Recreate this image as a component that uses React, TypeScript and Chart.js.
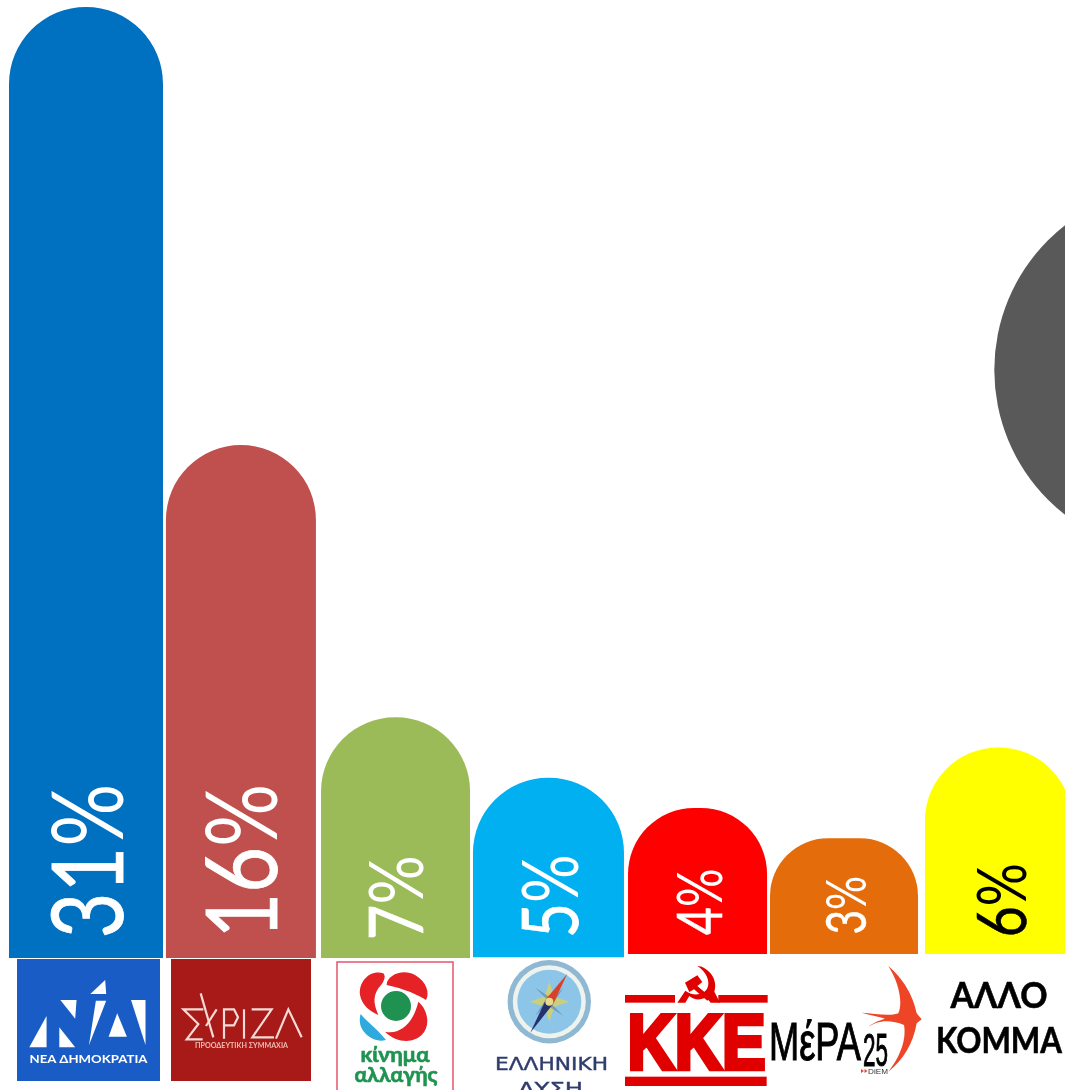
import React, { useEffect, useRef } from "react";
import Chart from "chart.js/auto";

// ---- data ----
const categories = ["Νέα Δημοκρατία", "ΣΥΡΙΖΑ", "Κίνημα Αλλαγής", "Ελληνική Λύση", "ΚΚΕ", "ΜέΡΑ25", "Άλλο Κόμμα"];
const values = [30.48, 16, 7, 5, 4, 3, 6];
const valueLabels = ["31%", "16%", "7%", "5%", "4%", "3%", "6%"];
const baseValues = [-0.96, -0.96, -0.96, -0.93, -0.83, -0.83, -0.83];
const slots = [0, 1.006, 2.01, 3.003, 3.971, 4.922, 5.925];
const undecidedCategory = "Αναποφάσιστοι";
const undecidedSlot = 7.09;
const undecidedValue = 18.48;

// ---- styles ----
const barColors = ["#0070c0", "#c0504d", "#9bbb59", "#00b0f0", "#ff0000", "#e46c0a", "#ffff00"];
const labelColors = ["#fff", "#fff", "#fff", "#fff", "#fff", "#fff", "#000"];
const barWidths = [154, 150, 149, 151, 139, 148, 147];
const barRadii = [77, 75, 74, 75, 66, 60, 73];
const labelCaps = [71, 71, 55, 56, 44, 40, 49];
const labelLengths = [148, 145, 79, 78, 65, 56, 70];
const labelShift = [1.5, 0.5, 0, 1.5, 2.5, 2, 3];
const labelBottom = [935, 932, 937, 935, 935, 933, 935];

const valueLabelPlugin = {
  id: "valueLabels",
  afterDatasetsDraw(chart: any) {
    const ctx = chart.ctx;
    valueLabels.forEach((text, i) => {
      const el = chart.getDatasetMeta(i).data[0];
      if (!el) return;
      const cap = labelCaps[i];
      ctx.save();
      ctx.font = `400 ${cap / 0.72}px Lato`;
      ctx.fillStyle = labelColors[i];
      ctx.strokeStyle = labelColors[i];
      ctx.lineWidth = cap * 0.012;
      ctx.textAlign = "left";
      ctx.textBaseline = "alphabetic";
      const m = ctx.measureText(text);
      const inkW = m.actualBoundingBoxRight + m.actualBoundingBoxLeft;
      const sx = labelLengths[i] / inkW;
      ctx.translate(el.x + cap / 2 + labelShift[i], labelBottom[i]);
      ctx.rotate(-Math.PI / 2);
      ctx.scale(sx, 1);
      ctx.fillText(text, m.actualBoundingBoxLeft, 0);
      ctx.strokeText(text.replace("%", ""), m.actualBoundingBoxLeft, 0);
      ctx.restore();
    });
  },
};

function Logos() {
  const greek = "Lato, 'Noto Sans', sans-serif";
  const third = 1 / 3;
  return (
    <svg width={1065} height={1090} style={{ position: "absolute", left: 0, top: 0, pointerEvents: "none" }}>
      {/* Nea Dimokratia */}
      <rect x={17} y={959} width={143} height={122} fill="#1a5cc6" />
      <g transform="translate(0,940) scale(0.3448,0.3333)" fill="#fff">
        <polygon points="305,120 262,162 308,162" />
        <polygon points="175,180 222,180 218,236" />
        <polygon points="278,182 308,182 258,316" />
        <polygon points="135,228 135,322 85,322" />
        <polygon points="172,262 218,322 172,322" />
        <polygon points="340,220 368,290 315,290" />
        <polygon points="380,180 422,180 422,315" />
      </g>
      <text x={88.5} y={1063} textAnchor="middle" fontFamily={greek} fontWeight={700} fontSize={12} fill="#fff" textLength={118} lengthAdjust="spacingAndGlyphs">ΝΕΑ ΔΗΜΟΚΡΑΤΙΑ</text>

      {/* Syriza */}
      <rect x={171} y={959} width={140} height={122} fill="#a81a18" />
      <g transform={`translate(170,960) scale(${third})`} fill="none" stroke="#f6dcd6" strokeWidth={6.5}>
        <polyline points="100,148 40,148 85,192 50,238 98,238" />
        <line x1="92" y1="100" x2="130" y2="232" />
        <line x1="140" y1="148" x2="108" y2="198" />
        <polyline points="162,236 162,148 192,148 204,172 192,196 162,196" />
        <line x1="222" y1="148" x2="222" y2="236" />
        <polyline points="245,148 305,148 247,232 312,232" />
        <polyline points="318,236 355,148 395,232" />
      </g>
      <text x={241.5} y={1047.5} textAnchor="middle" fontFamily={greek} fontWeight={700} fontSize={7} fill="#eebcb0" textLength={93} lengthAdjust="spacingAndGlyphs">ΠΡΟΟΔΕΥΤΙΚΗ ΣΥΜΜΑΧΙΑ</text>

      {/* Kinima Allagis */}
      <rect x={337} y={962} width={116} height={130} fill="#fff" stroke="#e2556b" strokeWidth={1.5} />
      <g transform={`translate(170,960) scale(${third})`}>
        <path d="M640,40 C600,28 565,65 570,105 C575,135 600,155 625,165 C615,140 605,115 625,85 C640,70 650,50 640,40Z" fill="#e52226" />
        <path d="M650,75 C650,45 700,25 735,45 C770,65 780,100 768,120 C745,105 700,85 650,75Z" fill="#e52226" />
        <path d="M745,125 C775,150 782,200 755,225 C730,250 680,250 645,215 C690,225 730,190 745,125Z" fill="#e52226" />
        <path d="M572,162 C590,185 615,200 648,240 C615,250 585,225 575,205 C568,190 568,175 572,162Z" fill="#2eaadc" />
        <circle cx={678} cy={138} r={45} fill="#1f9150" />
      </g>
      <text x={395} y={1062} textAnchor="middle" fontFamily={greek} fontWeight={700} fontSize={20} fill="#1f9350" stroke="#1f9350" strokeWidth={0.6} textLength={69} lengthAdjust="spacingAndGlyphs">κίνημα</text>
      <text x={396} y={1082} textAnchor="middle" fontFamily={greek} fontWeight={700} fontSize={20} fill="#1f9350" stroke="#1f9350" strokeWidth={0.6} textLength={83} lengthAdjust="spacingAndGlyphs">αλλαγής</text>

      {/* Elliniki Lysi */}
      <g transform="translate(549.3,1001.7)">
        <circle r={41.7} fill="#8fb8d3" />
        <circle r={36.5} fill="#eef3ee" />
        <circle r={32} fill="#8cc5e8" />
        <polygon points="0,-20 5,-5 20,0 5,5 0,20 -5,5 -20,0 -5,-5" fill="#c9cf7a" />
        <polygon points="-14,-14 -3,-3 -14,14 -3,3 14,14 3,3 14,-14 3,-3" fill="#5a7fa8" opacity={0.6} />
        <polygon points="-3,-3 4,2 18,-28" fill="#d8402a" />
        <polygon points="-3,-3 4,2 -19,31" fill="#26306f" />
        <circle r={4} fill="#e9d98a" />
      </g>
      <text x={551.5} y={1070} textAnchor="middle" fontFamily="'DejaVu Sans', sans-serif" fontSize={18} fill="#2f3c6e" stroke="#2f3c6e" strokeWidth={0.4} textLength={113} lengthAdjust="spacingAndGlyphs">ΕΛΛΗΝΙΚΗ</text>
      <text x={550.5} y={1095} textAnchor="middle" fontFamily="'DejaVu Sans', sans-serif" fontSize={18} fill="#2f3c6e" stroke="#2f3c6e" strokeWidth={0.4} textLength={65} lengthAdjust="spacingAndGlyphs">ΛΥΣΗ</text>

      {/* KKE */}
      <g transform={`translate(620,960) scale(${third})`} fill="#e00000">
        <rect x={15} y={105} width={150} height={23} />
        <rect x={295} y={105} width={148} height={23} />
        <rect x={15} y={350} width={425} height={28} />
        <path d="M232,17 C268,22 295,60 283,95 L300,128 L272,128 L258,112 C240,122 222,120 208,108 L196,128 L172,128 L196,92 C215,108 250,108 262,85 C272,62 258,35 232,17Z" />
        <polygon points="195,68 232,46 247,66 232,78 272,112 262,122 222,88 208,96" />
      </g>
      <text x={696.5} y={1069} textAnchor="middle" fontFamily="'Liberation Sans', sans-serif" fontWeight={700} fontSize={78} fill="#e00000" stroke="#e00000" strokeWidth={4.5} textLength={138} lengthAdjust="spacingAndGlyphs">ΚΚΕ</text>

      {/* MeRA25 */}
      <text x={769} y={1060} fontFamily="'Liberation Sans', sans-serif" fontSize={54} fill="#000" stroke="#000" strokeWidth={1.1} textLength={92} lengthAdjust="spacingAndGlyphs">ΜέΡΑ</text>
      <text x={863} y={1066} fontFamily="'Liberation Sans', sans-serif" fontSize={46} fill="#000" stroke="#000" strokeWidth={1} textLength={25} lengthAdjust="spacingAndGlyphs">25</text>
      <text x={868} y={1074} fontFamily="'Liberation Sans', sans-serif" fontSize={7.5} fill="#333" textLength={20} lengthAdjust="spacingAndGlyphs">DiEM</text>
      <polygon points="861,1069 864,1071 861,1073" fill="#ee4527" />
      <polygon points="864.5,1069 867.5,1071 864.5,1073" fill="#ee4527" />
      <path
        transform={`translate(620,960) scale(${third})`}
        d="M805,18 C860,65 882,120 890,160 L905,178 L890,190 C880,250 850,300 805,335 C840,290 860,240 852,195 C810,178 770,180 740,205 C755,190 775,182 795,176 C775,170 750,165 725,158 C765,160 805,170 835,160 C850,125 835,65 805,18Z"
        fill="#ee4527"
      />

      {/* Other party */}
      <text x={999} y={1008} textAnchor="middle" fontFamily="Lato, sans-serif" fontWeight={700} fontSize={37} fill="#000" stroke="#000" strokeWidth={0.6} textLength={97} lengthAdjust="spacingAndGlyphs">ΑΛΛΟ</text>
      <text x={999} y={1053} textAnchor="middle" fontFamily="Lato, sans-serif" fontWeight={700} fontSize={37} fill="#000" stroke="#000" strokeWidth={0.6} textLength={126} lengthAdjust="spacingAndGlyphs">ΚΟΜΜΑ</text>
    </svg>
  );
}

export default function App() {
  const ref = useRef<HTMLCanvasElement | null>(null);
  useEffect(() => {
    if (!ref.current) return;
    const barSets = categories.map((label, i) => ({
      type: "bar" as const,
      label,
      data: [{ x: slots[i], y: [baseValues[i], values[i]] }],
      backgroundColor: barColors[i],
      barThickness: barWidths[i],
      grouped: false,
      borderWidth: 0,
      inflateAmount: 0,
      borderSkipped: false,
      borderRadius: { topLeft: barRadii[i], topRight: barRadii[i], bottomLeft: 0, bottomRight: 0 },
    }));
    const chart = new Chart(ref.current, {
      type: "bar",
      data: {
        datasets: [
          ...barSets,
          {
            type: "bubble" as const,
            label: undecidedCategory,
            data: [{ x: undecidedSlot, y: undecidedValue, r: 183.6 }],
            backgroundColor: "#595959",
            borderWidth: 0,
            hoverRadius: 0,
          },
        ],
      } as any,
      options: {
        animation: false,
        responsive: false,
        layout: { padding: 0, autoPadding: false },
        plugins: { legend: { display: false }, tooltip: { enabled: false } },
        scales: {
          x: { type: "linear", display: false, offset: false, min: -0.5584, max: 6.357 },
          y: { type: "linear", display: false, min: -5.322, max: 30.711 },
        },
      } as any,
      plugins: [valueLabelPlugin],
    });
    return () => chart.destroy();
  }, []);
  return (
    <div style={{ position: "absolute", left: 0, top: 0, width: 1065, height: 1090, overflow: "hidden", background: "#fff" }}>
      <canvas ref={ref} width={1065} height={1090} style={{ display: "block", width: 1065, height: 1090 }} />
      <Logos />
    </div>
  );
}
